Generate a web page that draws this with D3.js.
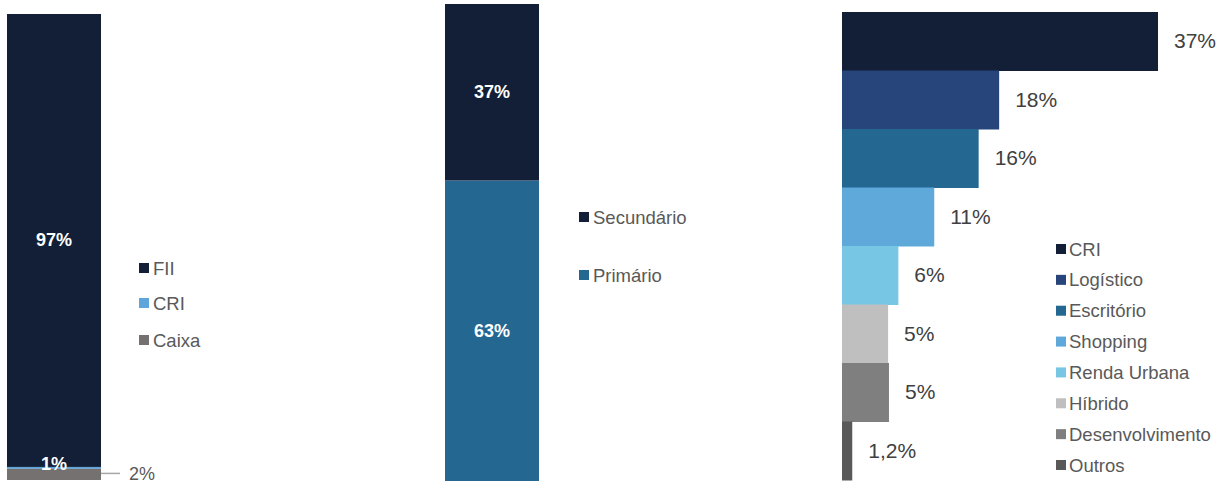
<!DOCTYPE html>
<html><head><meta charset="utf-8">
<script src="https://cdn.jsdelivr.net/npm/d3@7"></script>
<style>html,body{margin:0;padding:0;background:#fff;}svg{display:block;font-family:"Liberation Sans",Arial,sans-serif;}</style>
</head><body>
<svg id="c" width="1225" height="483"></svg>
<script>
// Chart 1: portfolio composition
const c1Categories = ["FII", "CRI", "Caixa"];
const c1Values = [97.2, 0.4, 2.4];
const c1Labels = ["97%", "1%", "2%"];
const c1Colors = ["#131F37", "#5DA5DA", "#767171"];

// Chart 2: market
const c2Categories = ["Primário", "Secundário"];
const c2Values = [63, 37];
const c2Labels = ["63%", "37%"];
const c2Colors = ["#246791", "#131F37"];
const c2LegendOrder = ["Secundário", "Primário"];

// Chart 3: segments
const c3Categories = ["CRI", "Logístico", "Escritório", "Shopping", "Renda Urbana", "Híbrido", "Desenvolvimento", "Outros"];
const c3Values = [37, 18.4, 16, 10.8, 6.6, 5.4, 5.5, 1.2];
const c3Labels = ["37%", "18%", "16%", "11%", "6%", "5%", "5%", "1,2%"];
const c3Colors = ["#131F37", "#27457A", "#246791", "#5FA8DA", "#77C6E4", "#BFBFBF", "#7F7F7F", "#595959"];

const svg = d3.select("#c");
const legendColor = "#595959";

// stack from bottom: values given in bottom-to-top order
function stacked(values) {
  let acc = 0;
  return values.map(v => { const s = acc; acc += v; return [s, acc]; });
}

// ---- Chart 1 ----
{
  const y = d3.scaleLinear().domain([0, 100]).range([480, 14]);
  const x = d3.scaleBand().domain(["a"]).range([7, 101]).padding(0);
  // bottom-to-top: Caixa, CRI, FII
  const order = [2, 1, 0];
  const stOrd = stacked(order.map(i => c1Values[i]));
  const st = [];
  order.forEach((idx, k) => { st[idx] = stOrd[k]; });
  const g = svg.append("g");
  g.selectAll("rect").data(c1Categories).join("rect")
    .attr("x", x("a")).attr("width", x.bandwidth())
    .attr("y", (d, i) => y(st[i][1])).attr("height", (d, i) => y(st[i][0]) - y(st[i][1]))
    .attr("fill", (d, i) => c1Colors[i]);
  // FII label
  g.append("text").attr("x", x("a") + x.bandwidth() / 2).attr("y", y((st[0][0] + st[0][1]) / 2) + 6)
    .attr("text-anchor", "middle").attr("fill", "#fff").attr("font-weight", "bold").attr("font-size", 18)
    .text(c1Labels[0]);
  // CRI label (sits just above thin slice)
  g.append("text").attr("x", x("a") + x.bandwidth() / 2).attr("y", y(st[1][1]) + 3)
    .attr("text-anchor", "middle").attr("fill", "#fff").attr("font-weight", "bold").attr("font-size", 18)
    .text(c1Labels[1]);
  // Caixa leader + label
  const cy = y((st[2][0] + st[2][1]) / 2);
  g.append("line").attr("x1", x("a") + x.bandwidth()).attr("x2", 120).attr("y1", cy - 1).attr("y2", cy - 1)
    .attr("stroke", "#A6A6A6").attr("stroke-width", 1.5);
  g.append("text").attr("x", 129).attr("y", cy + 6).attr("fill", legendColor).attr("font-size", 18)
    .text(c1Labels[2]);
  // legend
  const lyPos = { "FII": 268, "CRI": 303, "Caixa": 340 };
  const lg = g.selectAll("g.l1").data(c1Categories).join("g").attr("class", "l1")
    .attr("transform", d => `translate(139,${lyPos[d]})`);
  lg.append("rect").attr("x", 0).attr("y", -5).attr("width", 10).attr("height", 10).attr("fill", (d, i) => c1Colors[i]);
  lg.append("text").attr("x", 14).attr("y", 6.5).attr("fill", legendColor).attr("font-size", 18.5).text(d => d);
}

// ---- Chart 2 ----
{
  const y = d3.scaleLinear().domain([0, 100]).range([481, 4]);
  const x = d3.scaleBand().domain(["a"]).range([445, 539]).padding(0);
  const st = stacked(c2Values);
  const g = svg.append("g");
  g.selectAll("rect").data(c2Categories).join("rect")
    .attr("x", x("a")).attr("width", x.bandwidth())
    .attr("y", (d, i) => y(st[i][1])).attr("height", (d, i) => y(st[i][0]) - y(st[i][1]))
    .attr("fill", (d, i) => c2Colors[i]);
  g.selectAll("text.v").data(c2Categories).join("text").attr("class", "v")
    .attr("x", x("a") + x.bandwidth() / 2)
    .attr("y", (d, i) => y((st[i][0] + st[i][1]) / 2) + 6)
    .attr("text-anchor", "middle").attr("fill", "#fff").attr("font-weight", "bold").attr("font-size", 18)
    .text((d, i) => c2Labels[i]);
  const ly = d3.scalePoint().domain(c2LegendOrder).range([217, 275]);
  const lg = g.selectAll("g.l2").data(c2LegendOrder).join("g").attr("class", "l2")
    .attr("transform", d => `translate(579,${ly(d)})`);
  lg.append("rect").attr("x", 0).attr("y", -5).attr("width", 10).attr("height", 10)
    .attr("fill", d => c2Colors[c2Categories.indexOf(d)]);
  lg.append("text").attr("x", 14).attr("y", 6.5).attr("fill", legendColor).attr("font-size", 18.5).text(d => d);
}

// ---- Chart 3 ----
{
  const y = d3.scaleBand().domain(c3Categories).range([12, 480]).padding(0);
  const x = d3.scaleLinear().domain([0, 37]).range([842, 1158]);
  const g = svg.append("g");
  g.selectAll("rect").data(c3Categories).join("rect")
    .attr("x", x(0)).attr("y", d => y(d)).attr("height", y.bandwidth() + 0.5)
    .attr("width", (d, i) => x(c3Values[i]) - x(0))
    .attr("fill", (d, i) => c3Colors[i]);
  g.selectAll("text.v").data(c3Categories).join("text").attr("class", "v")
    .attr("x", (d, i) => x(c3Values[i]) + 16)
    .attr("y", d => y(d) + y.bandwidth() / 2 + 7)
    .attr("fill", "#404040").attr("font-size", 21)
    .text((d, i) => c3Labels[i]);
  const ly = d3.scalePoint().domain(c3Categories).range([249, 465]);
  const lg = g.selectAll("g.l3").data(c3Categories).join("g").attr("class", "l3")
    .attr("transform", d => `translate(1056,${ly(d)})`);
  lg.append("rect").attr("x", 0).attr("y", -5).attr("width", 10).attr("height", 10).attr("fill", (d, i) => c3Colors[i]);
  lg.append("text").attr("x", 13).attr("y", 6.5).attr("fill", legendColor).attr("font-size", 18.5).text(d => d);
}
</script>
</body></html>
